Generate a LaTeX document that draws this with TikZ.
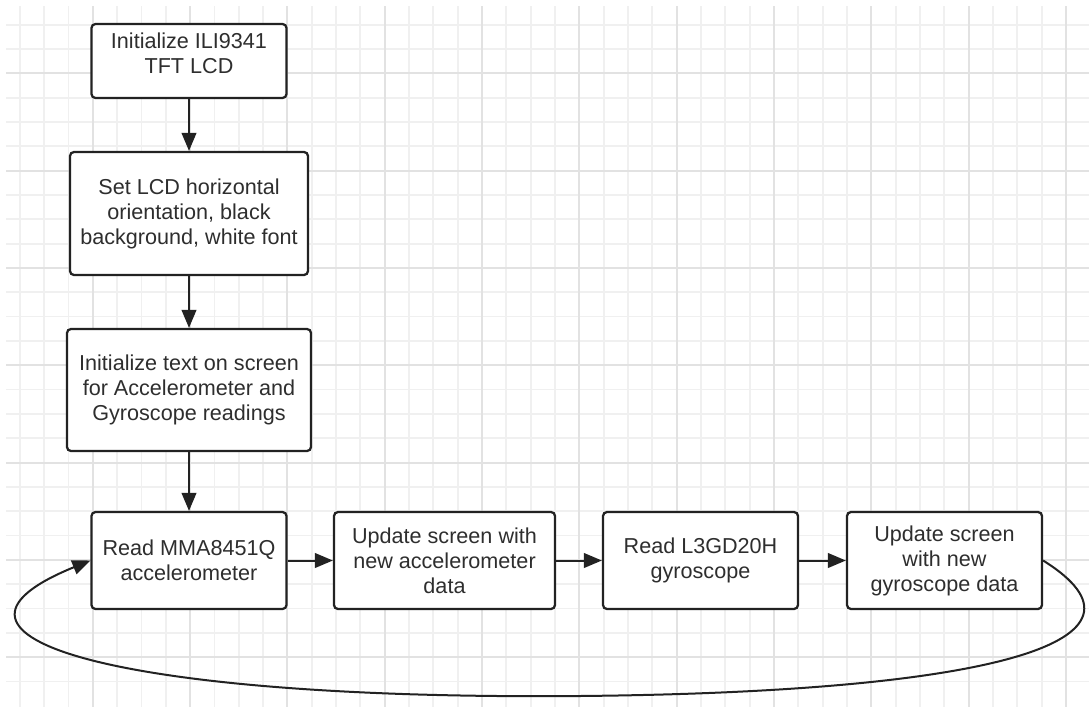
\documentclass[tikz,border=0pt]{standalone}
\usepackage{fontspec}
\setmainfont{Liberation Sans}
\usetikzlibrary{arrows.meta}
\definecolor{gridminor}{HTML}{F0F0F0}
\definecolor{gridmajor}{HTML}{E2E2E2}
\definecolor{inkc}{HTML}{222222}
\definecolor{textc}{HTML}{2E2E2E}
\tikzset{
  gminor/.style={draw=gridminor, line width=1.4pt},
  gmajor/.style={draw=gridmajor, line width=1.5pt},
  stepbox/.style={draw=inkc, fill=white, line width=1.7pt, rounded corners=3pt,
    align=center, text=textc, inner sep=0pt,
    font=\fontsize{16.2}{18.75}\selectfont, minimum height=97*0.75pt},
  txt/.style={align=center, text=textc, inner sep=0pt, font=\fontsize{16.2}{18.75}\selectfont},
  arr/.style={draw=inkc, line width=1.5pt, -{Triangle[length=13.5pt,width=11pt]}},
}
\begin{document}
\begin{tikzpicture}[x=0.75pt,y=-0.75pt]
\useasboundingbox (0,0) rectangle (1089,707);
\fill[white] (0,0) rectangle (1089,707);
% grid
\foreach \k in {0,...,43} \draw[gminor] ({19.8+24.33*\k},6) -- ({19.8+24.33*\k},707);
\foreach \k in {0,...,27} \draw[gminor] (6,{24.6+24.33*\k}) -- (1089,{24.6+24.33*\k});
\foreach \k in {3,7,...,43} \draw[gmajor] ({19.8+24.33*\k},6) -- ({19.8+24.33*\k},707);
\foreach \k in {2,6,...,26} \draw[gmajor] (6,{24.6+24.33*\k}) -- (1089,{24.6+24.33*\k});
% boxes
\node[stepbox, minimum width=195*0.75pt, minimum height=74*0.75pt,
  label={[txt, yshift=5.5pt]center:{Initialize ILI9341\\TFT LCD}}] (b1) at (189,61) {};
\node[stepbox, minimum width=238*0.75pt, minimum height=123*0.75pt] (b2) at (189,213.5)
  {Set LCD horizontal\\orientation, black\\background, white font};
\node[stepbox, minimum width=244*0.75pt, minimum height=122*0.75pt] (b3) at (189,390)
  {Initialize text on screen\\for Accelerometer and\\Gyroscope readings};
\node[stepbox, minimum width=195*0.75pt] (b4) at (189,560.5)
  {Read MMA8451Q\\accelerometer};
\node[stepbox, minimum width=221*0.75pt] (b5) at (444.5,560.5)
  {Update screen with\\new accelerometer\\data};
\node[stepbox, minimum width=195*0.75pt] (b6) at (700.5,560.5)
  {Read L3GD20H\\gyroscope};
\node[stepbox, minimum width=195*0.75pt] (b7) at (944.5,560.5)
  {Update screen\\with new\\gyroscope data};
% connectors
\draw[arr] (b1.south) -- (b2.north);
\draw[arr] (b2.south) -- (b3.north);
\draw[arr] (b3.south) -- (b4.north);
\draw[arr] (b4.east) -- (b5.west);
\draw[arr] (b5.east) -- (b6.west);
\draw[arr] (b6.east) -- (b7.west);
\draw[arr] (b7.east) .. controls (1170,640) and (1000,692) .. (580,696)
  .. controls (120,700) and (-100,638) .. (b4.west);
\end{tikzpicture}
\end{document}
